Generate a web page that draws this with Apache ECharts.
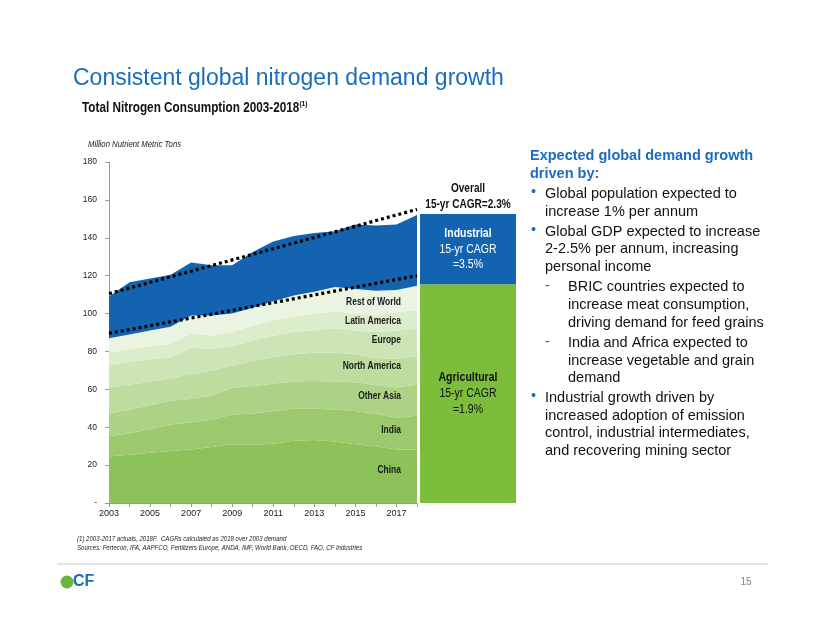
<!DOCTYPE html>
<html><head><meta charset="utf-8">
<script src="https://cdn.jsdelivr.net/npm/echarts@6.0.0/dist/echarts.min.js"></script>
<style>html,body{margin:0;padding:0;background:#fff}#c{width:825px;height:635px}</style>
</head><body><div id="c"></div>
<script>
const years = ['2003','2004','2005','2006','2007','2008','2009','2010','2011','2012','2013','2014','2015','2016','2017','2018'];
const china        = [24.5,25.5,26.5,27.5,28.3,29.5,31.0,30.8,31.3,32.8,33.2,32.5,31.0,30.0,28.2,28.3];
const india        = [10.9,11.3,12.5,14.0,14.2,14.5,15.7,16.5,17.1,16.9,16.5,16.9,17.6,17.0,16.8,17.7];
const otherAsia    = [11.9,12.5,12.6,12.5,12.5,12.8,14.1,14.4,14.6,14.5,14.7,14.8,15.2,15.3,16.0,16.5];
const northAmerica = [13.4,13.2,12.4,12.0,13.0,13.2,11.7,13.3,14.0,14.3,14.9,15.1,14.7,14.2,15.0,15.0];
const europe       = [11.9,11.9,11.8,11.0,14.0,11.4,10.1,10.8,11.4,11.7,11.7,13.0,12.5,13.7,15.0,14.5];
const latinAmerica = [6.4,7.0,6.8,7.0,7.3,7.0,7.6,7.9,7.9,8.2,8.8,8.9,8.8,9.3,9.7,9.9];
const restOfWorld  = [8.0,7.6,8.4,9.0,9.7,10.6,9.8,9.3,10.2,11.1,11.7,12.8,13.2,12.5,11.8,12.8];
const industrial   = [22.0,27.5,27.5,27.5,28.0,26.5,25.5,29.5,31.5,31.5,31.0,29.5,34.0,34.5,34.5,37.3];
const trendOverall = [110.5,155];   // 2003 start, 2018 end
const trendAgri    = [89.5,120];
const barCategory  = ['2018F'];
const barAgri      = [115.5];
const barInd       = [37.0];
const yTicks = [0,20,40,60,80,100,120,140,160,180];

const layers = [
  ['China', china, '#8dc159'],
  ['India', india, '#9cc96e'],
  ['Other Asia', otherAsia, '#acd385'],
  ['North America', northAmerica, '#bddc9e'],
  ['Europe', europe, '#cde5b6'],
  ['Latin America', latinAmerica, '#dcedcb'],
  ['Rest of World', restOfWorld, '#ebf4e1'],
  ['Industrial', industrial, '#1463b0']
];
const endOnly = (a) => years.map((y,i) => i===0 ? a[0] : (i===years.length-1 ? a[1] : null));

const SANS = '"Liberation Sans",Arial,sans-serif';

const chart = echarts.init(document.getElementById('c'), null, {renderer:'canvas'});
const series = layers.map(([name, data, color]) => ({
  name, type:'line', stack:'total', data, symbol:'none', smooth:false,
  lineStyle:{width:0}, areaStyle:{color, opacity:1}, itemStyle:{color},
  xAxisIndex:0, yAxisIndex:0, z:2
}));
series.push({type:'line', data:endOnly(trendOverall), connectNulls:true, symbol:'none',
  lineStyle:{color:'#000', width:3.2, type:[3,3]}, z:5, xAxisIndex:0, yAxisIndex:0});
series.push({type:'line', data:endOnly(trendAgri), connectNulls:true, symbol:'none',
  lineStyle:{color:'#000', width:3.2, type:[3,3]}, z:5, xAxisIndex:0, yAxisIndex:0});
series.push({type:'bar', stack:'bar', data:barAgri, barWidth:'100%', xAxisIndex:1, yAxisIndex:1,
  itemStyle:{color:'#7dbd3c'}});
series.push({type:'bar', stack:'bar', data:barInd, barWidth:'100%', xAxisIndex:1, yAxisIndex:1,
  itemStyle:{color:'#1463b0'}});

const areaLabels = [['Rest of World',302],['Latin America',320.5],['Europe',340],['North America',366],['Other Asia',396],['India',430],['China',470]];
const rightLines = [
  ['b','Global population expected to',194],['t','increase 1% per annum',211.7],
  ['b','Global GDP expected to increase',231.7],['t','2-2.5% per annum, increasing',249.3],['t','personal income',266.7],
  ['d','BRIC countries expected to',287.3],['s','increase meat consumption,',305],['s','driving demand for feed grains',322.7],
  ['d','India and Africa expected to',343.3],['s','increase vegetable and grain',360.7],['s','demand',377.7],
  ['b','Industrial growth driven by',398.3],['t','increased adoption of emission',416],['t','control, industrial intermediates,',433.3],['t','and recovering mining sector',450.7]
];
const barTexts = [
  ['Industrial',234,'#fff',true],['15-yr CAGR',250,'#fff',false],['=3.5%',265,'#fff',false],
  ['Agricultural',378,'#111',true],['15-yr CAGR',394,'#111',false],['=1.9%',410,'#111',false]
];
const G = [];
const T = (x, y, text, font, fill, opts) => G.push(Object.assign({type:'text', x, y, z:100,
  style:Object.assign({text, font, fill, verticalAlign:'middle'}, (opts&&opts.style)||{})}, (opts&&opts.el)||{}));

T(73, 79, 'Consistent global nitrogen demand growth', '23px '+SANS, '#1a6cbf');
G.push({type:'text', x:82, y:108, z:100, scaleX:0.84, style:{text:'{a|Total Nitrogen Consumption 2003-2018}{b|(1)}', verticalAlign:'middle', rich:{
  a:{fontFamily:SANS, fontWeight:'bold', fontSize:14, fill:'#111'},
  b:{fontFamily:SANS, fontWeight:'bold', fontSize:8, fill:'#111', padding:[0,0,9,0]}}}});
T(88, 144, 'Million Nutrient Metric Tons', 'italic 9px '+SANS, '#222', {el:{scaleX:0.86}});
areaLabels.forEach(([t,y]) => T(401, y, t, 'bold 11px '+SANS, '#1a1a1a', {style:{align:'right'}, el:{scaleX:0.77}}));
T(468, 189, 'Overall', 'bold 12px '+SANS, '#111', {style:{align:'center'}, el:{scaleX:0.84}});
T(468, 205, '15-yr CAGR=2.3%', 'bold 12px '+SANS, '#111', {style:{align:'center'}, el:{scaleX:0.84}});
barTexts.forEach(([t,y,c,b]) => T(468, y, t, (b?'bold ':'')+'12.5px '+SANS, c, {style:{align:'center'}, el:{scaleX:0.84}}));
T(530, 156, 'Expected global demand growth', 'bold 14.5px '+SANS, '#1a6cbf');
T(530, 173.5, 'driven by:', 'bold 14.5px '+SANS, '#1a6cbf');
rightLines.forEach(([k,t,y]) => {
  if (k==='b') T(531, y-2, '•', '14.5px '+SANS, '#1a6cbf');
  if (k==='d') T(545, y-1, '-', '14.5px '+SANS, '#1a6cbf');
  const x = (k==='b'||k==='t') ? 545 : 568;
  T(x, y, t, '14.5px '+SANS, '#111');
});
T(77, 539, '(1) 2003-2017 actuals, 2018F.  CAGRs calculated as 2018 over 2003 demand', 'italic 7.5px '+SANS, '#222', {el:{scaleX:0.81}});
T(77, 548, 'Sources: Fertecon, IFA, AAPFCO, Fertilizers Europe, ANDA, IMF, World Bank, OECD, FAO, CF Industries', 'italic 7.5px '+SANS, '#222', {el:{scaleX:0.81}});
G.push({type:'line', z:100, shape:{x1:57, y1:564, x2:768, y2:564}, style:{stroke:'#c8c8c8', lineWidth:1}});
G.push({type:'circle', z:100, shape:{cx:67, cy:582, r:6.5}, style:{fill:'#6cb33f'}});
T(73, 582, 'CF', 'bold 16px '+SANS, '#1a6cbf');
T(746, 582, '15', '10px '+SANS, '#888', {style:{align:'center'}});

chart.setOption({
  animation:false,
  backgroundColor:'#fff',
  grid:[{left:109, top:162, width:308, height:341}, {left:420, top:162, width:96, height:341}],
  xAxis:[{type:'category', gridIndex:0, data:years, boundaryGap:false,
      axisLine:{lineStyle:{color:'#999'}}, axisTick:{show:true, interval:0, lineStyle:{color:'#999'}, length:4},
      axisLabel:{interval:1, color:'#222', fontFamily:SANS, fontSize:9, margin:6}, splitLine:{show:false}},
    {type:'category', gridIndex:1, data:barCategory, show:false}],
  yAxis:[{type:'value', gridIndex:0, min:0, max:180, interval:20,
      axisLine:{show:true, lineStyle:{color:'#999'}}, axisTick:{show:true, lineStyle:{color:'#999'}, length:4},
      axisLabel:{color:'#222', fontFamily:SANS, fontSize:8.5, margin:12,
        formatter:(v) => yTicks.includes(v) ? (v===0 ? '-' : String(v)) : ''}, splitLine:{show:false}},
    {type:'value', gridIndex:1, min:0, max:180, show:false}],
  series,
  graphic:G
});
</script></body></html>
